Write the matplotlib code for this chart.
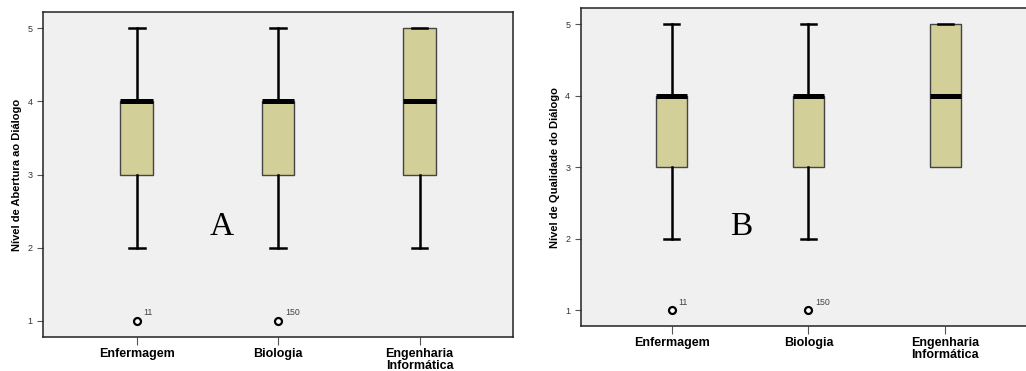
import matplotlib
matplotlib.use("Agg")
import matplotlib.pyplot as plt

CATEGORIES = ["Enfermagem", "Biologia", "Engenharia\nInformática"]

# Painel A - Nível de Abertura ao Diálogo
A_Q1 = [3, 3, 3]
A_MED = [4, 4, 4]
A_Q3 = [4, 4, 5]
A_LO = [2, 2, 2]
A_HI = [5, 5, 5]
A_FLIERS = [[1], [1], []]
A_FLIER_IDS = [["11"], ["150"], []]

# Painel B - Nível de Qualidade do Diálogo
B_Q1 = [3, 3, 3]
B_MED = [4, 4, 4]
B_Q3 = [4, 4, 5]
B_LO = [2, 2, 3]
B_HI = [5, 5, 5]
B_FLIERS = [[1], [1], []]
B_FLIER_IDS = [["11"], ["150"], []]

BOX, BG, EDGE = "#d3cf99", "#f0f0f0", "#444444"
SANS = ["Liberation Sans", "DejaVu Sans"]


def panel(ax, q1, med, q3, lo, hi, fliers, ids, ylabel, letter, lx, ly):
    stats = [dict(q1=a, med=m, q3=b, whislo=l, whishi=h, fliers=f, label=c)
             for a, m, b, l, h, f, c in zip(q1, med, q3, lo, hi, fliers, CATEGORIES)]
    art = ax.bxp(stats, positions=[1, 2, 3], widths=0.23, patch_artist=True,
                 boxprops=dict(facecolor=BOX, edgecolor=EDGE, lw=1.0),
                 medianprops=dict(color="black", lw=3.6, solid_capstyle="butt"),
                 whiskerprops=dict(color="black", lw=1.8),
                 capprops=dict(color="black", lw=1.8), capwidths=0.11,
                 flierprops=dict(marker="o", ms=5, mfc="white", mec="black", mew=1.6))
    # SPSS draws no cap where the lower whisker collapses onto the box
    for i, (a, l) in enumerate(zip(q1, lo)):
        if a == l:
            art["caps"][2 * i].set_visible(False)
    for i, (fs, ns) in enumerate(zip(fliers, ids)):
        for v, n in zip(fs, ns):
            ax.annotate(n, (i + 1, v), xytext=(5, 4), textcoords="offset points",
                        fontsize=6.3, color="#444", family=SANS)
    ax.set_facecolor(BG)
    ax.set_xlim(0.337, 3.66)
    ax.set_ylim(0.78, 5.22)
    ax.set_yticks([1, 2, 3, 4, 5])
    ax.tick_params(axis="y", labelsize=6.5, length=4, color="#555", labelcolor="#333")
    ax.tick_params(axis="x", length=6, color="#555", pad=2)
    for t in ax.get_xticklabels():
        t.set_fontweight("bold")
        t.set_fontsize(9)
        t.set_family(SANS)
        t.set_linespacing(0.95)
    for t in ax.get_yticklabels():
        t.set_family(SANS)
    ax.set_ylabel(ylabel, fontsize=8, weight="bold", family=SANS, labelpad=4)
    for s in ax.spines.values():
        s.set_color("#222")
        s.set_linewidth(1.1)
    ax.text(lx, ly, letter, fontsize=24, family="Liberation Serif", ha="center", va="center")


fig = plt.figure(figsize=(10.26, 3.71), dpi=100)
ax_a = fig.add_axes([0.0419, 0.0916, 0.458, 0.876])
ax_b = fig.add_axes([0.566, 0.1213, 0.4435, 0.856])
panel(ax_a, A_Q1, A_MED, A_Q3, A_LO, A_HI, A_FLIERS, A_FLIER_IDS,
      "Nível de Abertura ao Diálogo", "A", 1.6, 2.28)
panel(ax_b, B_Q1, B_MED, B_Q3, B_LO, B_HI, B_FLIERS, B_FLIER_IDS,
      "Nível de Qualidade do Diálogo", "B", 1.51, 2.17)
fig.savefig("out.png", dpi=100, facecolor="white")
